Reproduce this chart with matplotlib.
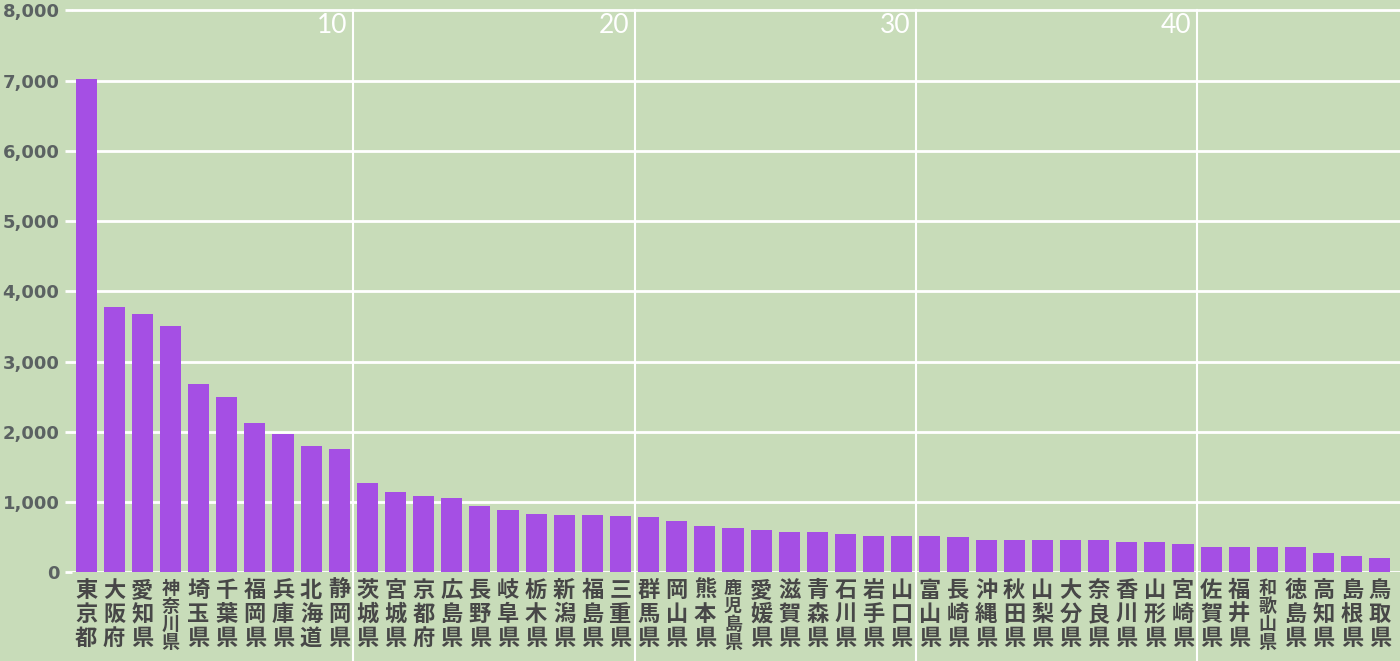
import matplotlib
matplotlib.use("Agg")
import matplotlib.pyplot as plt
import numpy as np

# --- data: prefectures, sorted by value
prefectures = ["東京都", "大阪府", "愛知県", "神奈川県", "埼玉県", "千葉県", "福岡県", "兵庫県",
               "北海道", "静岡県", "茨城県", "宮城県", "京都府", "広島県", "長野県", "岐阜県",
               "栃木県", "新潟県", "福島県", "三重県", "群馬県", "岡山県", "熊本県", "鹿児島県",
               "愛媛県", "滋賀県", "青森県", "石川県", "岩手県", "山口県", "富山県", "長崎県",
               "沖縄県", "秋田県", "山梨県", "大分県", "奈良県", "香川県", "山形県", "宮崎県",
               "佐賀県", "福井県", "和歌山県", "徳島県", "高知県", "島根県", "鳥取県"]
values = [7020, 3780, 3675, 3510, 2680, 2500, 2125, 1964,
          1803, 1751, 1271, 1139, 1082, 1053, 944, 892,
          835, 811, 811, 808, 788, 731, 655, 626,
          598, 569, 569, 545, 517, 517, 517, 498,
          465, 465, 465, 465, 465, 437, 437, 408,
          361, 361, 361, 361, 280, 228, 199]
yticks = [0, 1000, 2000, 3000, 4000, 5000, 6000, 7000, 8000]
rank_marks = [10, 20, 30, 40]

bg = "#c8dcb9"
bar_color = "#a54fe4"

fig = plt.figure(figsize=(14, 6.61), dpi=100, facecolor=bg)
H = 661.0
y0_px = 572.3          # pixel row of value 0
px_per_unit = 70.25 / 1000
ytop = 8050
ax_h = ytop * px_per_unit
ax = fig.add_axes([72 / 1400, (H - y0_px) / H, 1 - 72 / 1400, ax_h / H])
ax.set_facecolor(bg)

x = np.arange(1, len(values) + 1)
ax.bar(x, values, width=0.75, color=bar_color, zorder=3)

ax.set_xlim(0.5, 47.5 + 6 / 28.13)
ax.set_ylim(0, ytop)

# horizontal grid
for v in yticks:
    ax.axhline(v, color="white", lw=2, zorder=1)
ax.set_yticks(yticks)
ax.set_yticklabels([f"{v:,}" for v in yticks], fontfamily="DejaVu Sans",
                   fontweight="bold", fontsize=13, color="#5b6262")
ax.tick_params(axis="y", length=5, width=2, color="white", pad=4)

# vertical marks every 10 ranks, running into the label area
ext = (H - y0_px) / ax_h
for r in rank_marks:
    ax.axvline(r + 0.5, ymin=-ext, ymax=8000 / ytop, color="white", lw=1.5,
               zorder=2, clip_on=False)
    ax.text(r + 0.3, 7790, str(r), ha="right", va="center", color="white",
            fontsize=19, fontfamily="Lato", fontweight="normal", zorder=4)

# x labels stacked vertically
ax.set_xticks(x)
ax.set_xticklabels(["\n".join(p) for p in prefectures],
                   fontfamily=["Noto Sans CJK JP", "DejaVu Sans"],
                   fontweight="bold", fontsize=16, color="#474747",
                   va="top")
for lbl, p in zip(ax.get_xticklabels(), prefectures):
    lbl.set_linespacing(1.04)
    if len(p) == 4:
        lbl.set_fontsize(13)
        lbl.set_linespacing(0.92)
ax.tick_params(axis="x", length=0, pad=5)

for s in ax.spines.values():
    s.set_visible(False)

fig.savefig("out.png", dpi=100, facecolor=bg)
